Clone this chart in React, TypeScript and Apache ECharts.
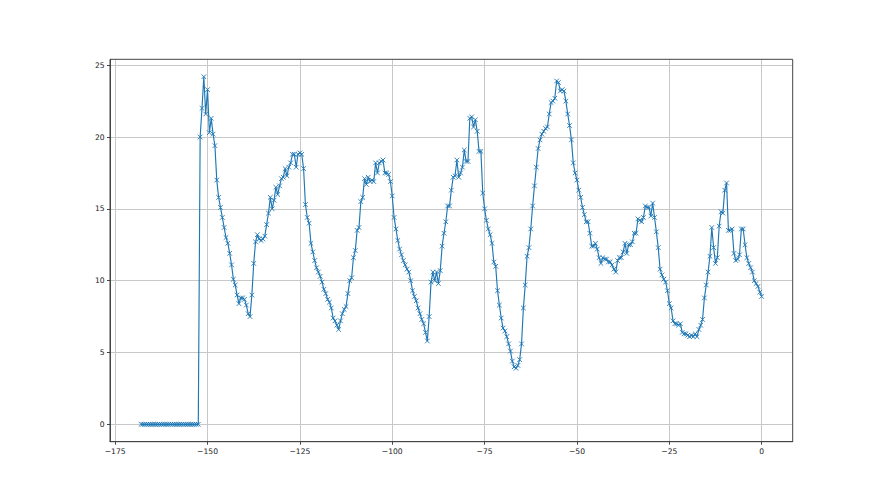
import React, { useEffect, useRef } from "react";
import * as echarts from "echarts";

// Sampling of the trace (x positions in the same units as the horizontal axis)
const xStart = -168;
const xStep = 0.5;

// Values, in order
const flatStart = [
  0, 0, 0, 0, 0, 0, 0, 0, 0, 0, 0, 0, 0, 0, 0, 0,
  0, 0, 0, 0, 0, 0, 0, 0, 0, 0, 0, 0, 0, 0, 0, 0,
];
const segment1 = [
  20.0, 22.0, 24.2, 21.6, 23.3, 20.3, 21.3, 20.2, 19.4, 17.0,
  15.8, 15.1, 14.4, 13.7, 13.0, 12.6, 11.9, 11.1, 10.1, 9.7,
  9.0, 8.4, 8.8, 8.8, 8.7, 8.3, 7.7, 7.5, 9.0, 11.2,
  12.7, 13.2, 12.9, 12.8, 12.9, 13.1, 13.9, 14.7, 15.8, 15.0,
  15.6, 16.5, 16.0, 16.6, 17.1, 17.2, 17.8, 17.3, 17.9, 18.2,
];
const segment2 = [
  18.8, 18.8, 17.9, 18.8, 18.9, 18.8, 17.8, 15.3, 14.4, 14.0,
  12.6, 12.0, 11.4, 10.9, 10.6, 10.3, 9.9, 9.4, 9.1, 8.7,
  8.5, 8.1, 7.4, 7.2, 6.9, 6.6, 7.2, 7.7, 8.0, 8.2,
  9.1, 10.0, 10.2, 11.6, 12.1, 13.5, 13.7, 15.5, 15.8, 17.1,
  16.7, 17.2, 16.9, 17.0, 16.9, 18.2, 17.5, 18.2, 18.3, 18.4,
];
const segment3 = [
  17.5, 17.5, 17.4, 16.9, 15.9, 14.4, 13.6, 12.8, 12.2, 11.8,
  11.4, 11.1, 10.8, 10.6, 10.0, 9.3, 8.9, 8.6, 8.1, 7.7,
  7.3, 7.0, 6.4, 5.8, 7.5, 9.9, 10.6, 10.0, 10.6, 9.8,
  10.7, 12.4, 13.3, 14.1, 15.2, 15.2, 16.3, 17.2, 17.3, 18.4,
  17.2, 17.5, 17.9, 19.1, 18.3, 18.3, 21.3, 21.4, 20.7, 21.2,
];
const segment4 = [
  20.4, 19.0, 19.0, 16.1, 15.0, 14.2, 13.6, 13.2, 12.6, 11.3,
  11.0, 9.3, 8.3, 7.4, 6.7, 6.5, 6.1, 5.6, 5.1, 4.4,
  4.0, 3.9, 4.1, 4.5, 5.6, 8.1, 9.7, 11.7, 12.3, 13.6,
  15.2, 16.6, 17.9, 19.2, 19.8, 20.2, 20.4, 20.6, 20.7, 21.6,
  22.4, 22.5, 22.7, 23.9, 23.8, 23.2, 23.3, 23.2, 22.5, 21.6,
];
const segment5 = [
  20.8, 19.8, 18.2, 17.5, 17.0, 16.3, 15.8, 15.1, 14.6, 14.1,
  14.1, 13.3, 12.4, 12.4, 12.6, 12.2, 11.6, 11.2, 11.6, 11.5,
  11.5, 11.3, 11.3, 11.1, 10.8, 10.6, 11.4, 11.6, 11.6, 12.0,
  12.6, 11.9, 12.5, 12.5, 12.7, 13.3, 13.3, 14.3, 14.2, 14.1,
  14.4, 15.2, 15.1, 15.1, 14.5, 15.4, 14.4, 13.4, 12.3, 10.8,
];
const segment6 = [
  10.4, 10.1, 9.9, 9.3, 8.4, 8.1, 7.2, 7.0, 7.0, 6.9,
  7.0, 6.4, 6.3, 6.3, 6.2, 6.1, 6.2, 6.1, 6.3, 6.1,
  6.6, 6.9, 7.3, 8.8, 9.7, 10.6, 11.7, 13.7, 12.3, 11.2,
  11.6, 13.8, 14.8, 14.7, 16.3, 16.8, 13.5, 13.5, 13.6, 11.9,
  11.4, 11.5, 11.8, 13.6, 13.6, 12.5, 11.6, 11.2, 10.9, 10.6,
  10.0, 9.8, 9.6, 9.2, 8.9,
];

const xTicks = [-175, -150, -125, -100, -75, -50, -25, 0];
const yTicks = [0, 5, 10, 15, 20, 25];

const values = [
  ...flatStart,
  ...segment1,
  ...segment2,
  ...segment3,
  ...segment4,
  ...segment5,
  ...segment6,
];
const points = values.map((v, i) => [xStart + i * xStep, v]);

const fmt = (v: number) => (v < 0 ? "\u2212" + Math.abs(v) : String(v));

const BLUE = "#1f77b4";
const AXIS = "#444444";
const GRID = "#c8c8c8";

export default function App() {
  const ref = useRef<HTMLDivElement>(null);
  useEffect(() => {
    if (!ref.current) return;
    const chart = echarts.init(ref.current, undefined, { renderer: "svg" });
    const labelStyle = {
      color: "#222",
      fontFamily: "DejaVu Sans",
      fontSize: 7.6,
      margin: 5.3,
    };
    chart.setOption({
      animation: false,
      backgroundColor: "#ffffff",
      grid: { left: 110, right: 87.3, top: 59.3, bottom: 53.3, containLabel: false },
      xAxis: {
        type: "value",
        min: -176.4,
        max: 8.4,
        axisLine: { show: true, onZero: false, lineStyle: { color: AXIS, width: 1 } },
        axisTick: {
          show: true,
          inside: false,
          length: 3,
          customValues: xTicks,
          lineStyle: { color: AXIS, width: 1 },
        },
        axisLabel: { ...labelStyle, customValues: xTicks, formatter: fmt },
        splitLine: { show: true, lineStyle: { color: GRID, width: 1 } },
      },
      yAxis: {
        type: "value",
        min: -1.21,
        max: 25.41,
        axisLine: { show: true, onZero: false, lineStyle: { color: AXIS, width: 1 } },
        axisTick: {
          show: true,
          inside: false,
          length: 3,
          customValues: yTicks,
          lineStyle: { color: AXIS, width: 1 },
        },
        axisLabel: { ...labelStyle, customValues: yTicks, formatter: fmt },
        splitLine: { show: true, lineStyle: { color: GRID, width: 1 } },
      },
      graphic: [
        {
          type: "rect",
          shape: { x: 110, y: 59.3, width: 880 - 110 - 87.3, height: 495 - 59.3 - 53.3 },
          style: { fill: "none", stroke: AXIS, lineWidth: 1 },
          silent: true,
          z: 100,
        },
      ],
      series: [
        {
          type: "line",
          data: points,
          showSymbol: true,
          showAllSymbol: true,
          symbol: "path://M0,0L10,10M10,0L0,10",
          symbolSize: 4.6,
          itemStyle: { color: "rgba(0,0,0,0)", borderColor: BLUE, borderWidth: 0.9 },
          lineStyle: { color: BLUE, width: 1.15 },
          emphasis: { disabled: true },
        },
      ],
    });
    return () => chart.dispose();
  }, []);
  return (
    <div
      ref={ref}
      style={{ position: "fixed", left: 0, top: 0, width: 880, height: 495 }}
    />
  );
}
